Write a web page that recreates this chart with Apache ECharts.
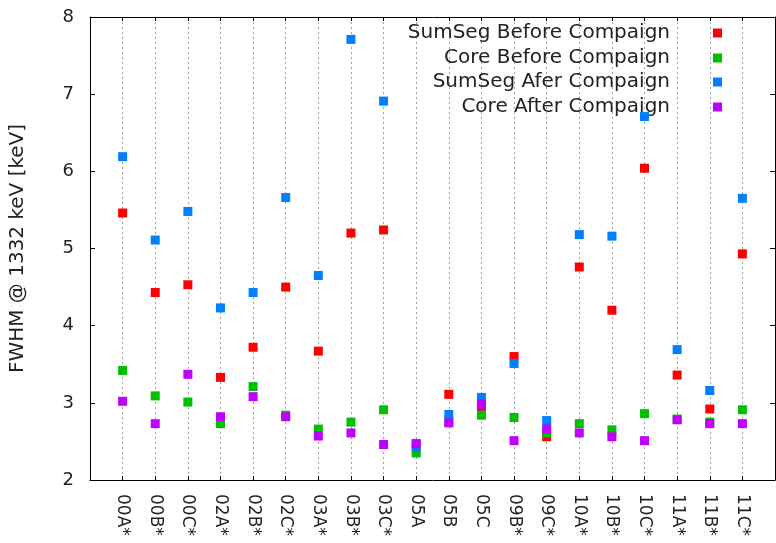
<!DOCTYPE html>
<html>
<head>
<meta charset="utf-8">
<script src="https://cdn.jsdelivr.net/npm/echarts@6/dist/echarts.min.js"></script>
<style>
  html, body { margin: 0; padding: 0; background: #fff; }
  #fwhm { width: 776px; height: 543px; }
</style>
</head>
<body>
<div id="fwhm"></div>
<script>
// detectors on the x axis
var categories = ['00A*', '00B*', '00C*', '02A*', '02B*', '02C*', '03A*', '03B*', '03C*', '05A',
  '05B', '05C', '09B*', '09C*', '10A*', '10B*', '10C*', '11A*', '11B*', '11C*'];

// FWHM values [keV]
var sumSegBefore = [5.46, 4.43, 4.53, 3.33, 3.72, 4.50, 3.67, 5.20, 5.24, 2.47,
  3.11, 2.95, 3.60, 2.56, 4.76, 4.20, 6.04, 3.36, 2.92, 4.93];
var coreBefore = [3.42, 3.09, 3.01, 2.73, 3.21, 2.84, 2.66, 2.75, 2.91, 2.35,
  2.76, 2.84, 2.81, 2.61, 2.73, 2.65, 2.86, 2.79, 2.75, 2.91];
var sumSegAfter = [6.19, 5.11, 5.48, 4.23, 4.43, 5.66, 4.65, 7.71, 6.91, 2.42,
  2.85, 3.07, 3.51, 2.77, 5.18, 5.16, 6.71, 3.69, 3.16, 5.65];
var coreAfter = [3.02, 2.73, 3.37, 2.82, 3.08, 2.82, 2.57, 2.61, 2.46, 2.47,
  2.74, 2.98, 2.51, 2.66, 2.61, 2.56, 2.51, 2.78, 2.73, 2.73];

var seriesNames = ['SumSeg Before Compaign', 'Core Before Compaign', 'SumSeg Afer Compaign', 'Core After Compaign'];
var seriesData = [sumSegBefore, coreBefore, sumSegAfter, coreAfter];
var colors = ['#ff0000', '#00c000', '#0080ff', '#c000ff'];

var font = 'DejaVu Sans';

function pairs(values) {
  return values.map(function (v, i) { return [i, v]; });
}

var legendTops = [23, 48, 72, 97];

var myChart = echarts.init(document.getElementById('fwhm'));
myChart.setOption({
  animation: false,
  grid: { left: 89, top: 17, right: 1, bottom: 63 },
  legend: seriesNames.map(function (name, i) {
    return {
      data: [name],
      right: 54,
      top: legendTops[i],
      padding: 0,
      align: 'right',
      icon: 'rect',
      itemWidth: 9,
      itemHeight: 9,
      selectedMode: false,
      textStyle: { fontFamily: font, fontSize: 20, color: '#222', padding: [0, 38, 0, 0] }
    };
  }),
  xAxis: [
    {
      type: 'value',
      min: -1,
      max: 20,
      interval: 1,
      axisLine: { show: true, onZero: false, lineStyle: { color: '#000', width: 1 } },
      axisTick: { show: true, inside: true, length: 4, lineStyle: { color: '#000' } },
      axisLabel: {
        rotate: -90,
        margin: 14,
        fontFamily: font,
        fontSize: 17,
        color: '#222',
        showMinLabel: true,
        showMaxLabel: true,
        formatter: function (v) {
          return categories[v] !== undefined ? categories[v] : '';
        }
      },
      splitLine: { show: true, lineStyle: { color: '#a0a0a0', type: [2, 3], width: 1 } }
    },
    {
      type: 'value',
      position: 'top',
      min: -1,
      max: 20,
      interval: 1,
      axisLine: { show: true, onZero: false, lineStyle: { color: '#000', width: 1 } },
      axisTick: { show: true, inside: true, length: 4, lineStyle: { color: '#000' } },
      axisLabel: { show: false },
      splitLine: { show: false }
    }
  ],
  yAxis: [
    {
      type: 'value',
      min: 2,
      max: 8,
      interval: 1,
      name: 'FWHM @ 1332 keV [keV]',
      nameLocation: 'middle',
      nameGap: 62,
      nameTextStyle: { fontFamily: font, fontSize: 20, color: '#222' },
      axisLine: { show: true, onZero: false, lineStyle: { color: '#000', width: 1 } },
      axisTick: { show: true, inside: true, length: 5, lineStyle: { color: '#000' } },
      axisLabel: { margin: 16, fontFamily: font, fontSize: 18, color: '#222' },
      splitLine: { show: false }
    },
    {
      type: 'value',
      position: 'right',
      min: 2,
      max: 8,
      interval: 1,
      axisLine: { show: true, onZero: false, lineStyle: { color: '#000', width: 1 } },
      axisTick: { show: true, inside: true, length: 5, lineStyle: { color: '#000' } },
      axisLabel: { show: false },
      splitLine: { show: false }
    }
  ],
  series: seriesNames.map(function (name, i) {
    return {
      name: name,
      type: 'scatter',
      symbol: 'rect',
      symbolSize: 9,
      itemStyle: { color: colors[i], opacity: 1 },
      z: 2 + i,
      data: pairs(seriesData[i])
    };
  })
});
</script>
</body>
</html>
